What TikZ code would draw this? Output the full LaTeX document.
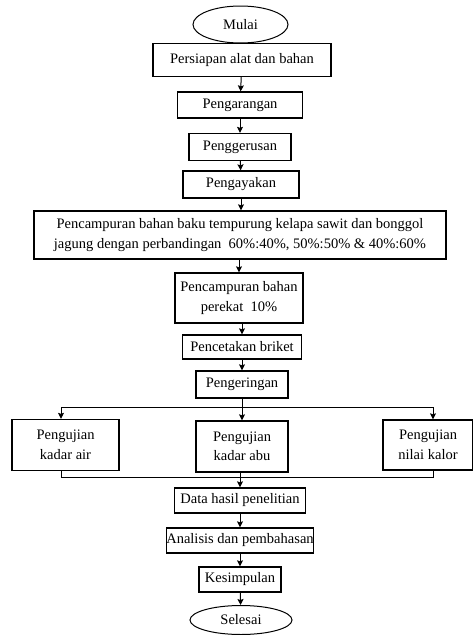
\documentclass[tikz,border=0pt]{standalone}
\usepackage{fontspec}
\setmainfont{Liberation Serif}
\usetikzlibrary{shapes.geometric, arrows.meta}

\begin{document}
\begin{tikzpicture}[>={Stealth[length=6pt, width=6pt, inset=1pt]}, x=1pt, y=-1pt,
  kotak/.style={draw, line width=1.3pt, rectangle, align=center, inner sep=0pt,
    font=\fontsize{14.5}{19.5}\selectfont},
  oval/.style={draw, line width=1pt, ellipse, inner sep=0pt,
    font=\fontsize{14.5}{19.5}\selectfont},
  garis/.style={line width=1pt},
  panah/.style={line width=1pt, ->}]
\useasboundingbox (0,0) rectangle (473,635);

\node[oval, minimum width=95, minimum height=37] (mulai) at (240.5,24.5) {Mulai};
\node[kotak, minimum width=178, minimum height=33] (siap) at (242,60) {Persiapan alat dan bahan};
\node[kotak, minimum width=125, minimum height=26] (arang) at (240,105) {Pengarangan};
\node[kotak, minimum width=102, minimum height=27] (gerus) at (240,147) {Penggerusan};
\node[kotak, minimum width=116, minimum height=27] (ayak) at (241,184.5) {Pengayakan};
\node[kotak, minimum width=412, minimum height=48] (campur) at (240,235)
  {Pencampuran bahan baku tempurung kelapa sawit dan bonggol\\
   jagung dengan perbandingan~ 60\%:40\%, 50\%:50\% \& 40\%:60\%};
\node[kotak, minimum width=128, minimum height=50] (perekat) at (239,298)
  {Pencampuran bahan\\perekat~ 10\%};
\node[kotak, minimum width=119, minimum height=24] (cetak) at (242,347) {Pencetakan briket};
\node[kotak, minimum width=92, minimum height=27] (kering) at (242,384.5) {Pengeringan};

\node[kotak, minimum width=107, minimum height=51] (air) at (65.5,445) {Pengujian\\kadar air};
\node[kotak, minimum width=92, minimum height=51] (abu) at (242,446.5) {Pengujian\\kadar abu};
\node[kotak, minimum width=90, minimum height=50] (kalor) at (428,445) {Pengujian\\nilai kalor};

\node[kotak, minimum width=131, minimum height=25] (data) at (240,500.5) {Data hasil penelitian};
\node[kotak, minimum width=131, minimum height=25] (analisis) at (240,540.5) {Analisis dan pembahasan};
\node[kotak, minimum width=82, minimum height=25] (simpul) at (240,579.5) {Kesimpulan};
\node[oval, minimum width=102, minimum height=29] (selesai) at (241,620) {Selesai};

\coordinate (atas) at (242,407);
\coordinate (kiri) at (61,407);
\coordinate (kanan) at (433,407);
\coordinate (bawah) at (242,477);

\draw[panah] (siap) -- (arang);
\draw[panah] (arang) -- (gerus);
\draw[panah] (gerus) -- (ayak);
\draw[panah] (ayak) -- (ayak.south |- campur.north);
\draw[panah] (campur.south -| perekat) -- (perekat);
\draw[panah] (perekat.south -| cetak) -- (cetak);
\draw[panah] (cetak) -- (kering);

\draw[garis] (kering.south) -- (atas);
\draw[panah] (atas) -| (kiri |- air.north);
\draw[panah] (atas) -- (abu);
\draw[panah] (atas) -| (kanan |- kalor.north);

\draw[garis] (kiri |- air.south) -- (kiri |- bawah) -- (kanan |- bawah) -- (kanan |- kalor.south);
\draw[panah] (abu.south -| data) -- (data);
\draw[panah] (data) -- (analisis);
\draw[panah] (analisis) -- (simpul);
\draw[panah] (simpul) -- (selesai);

\end{tikzpicture}
\end{document}
